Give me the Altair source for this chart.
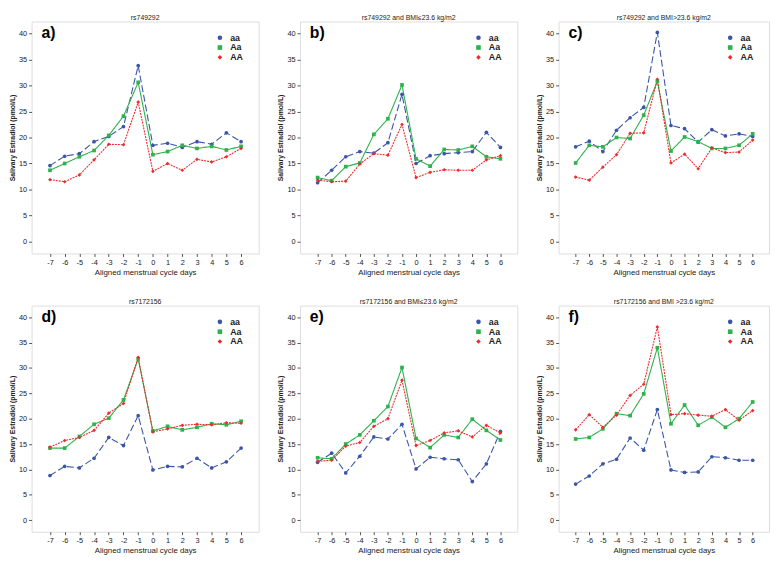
import altair as alt
import pandas as pd

days = list(range(-7, 7))
series = ["aa", "Aa", "AA"]
colors = ["#3B55A8", "#2EB24B", "#EE2A2E"]
shapes = ["circle", "square", "diamond"]
dashes = [[7, 3], [1, 0], [2, 1]]
y_ticks = [0, 5, 10, 15, 20, 25, 30, 35, 40]

titles = [
    "rs749292",
    "rs749292 and BMI\u226423.6 kg/m2",
    "rs749292 and BMI>23.6 kg/m2",
    "rs7172156",
    "rs7172156 and BMI\u226423.6 kg/m2",
    "rs7172156 and BMI >23.6 kg/m2",
]
letters = ["a)", "b)", "c)", "d)", "e)", "f)"]

# panel a
a_aa = [14.6, 16.4, 16.9, 19.2, 20.2, 22.1, 33.8, 18.5, 18.9, 18.1, 19.2, 18.7, 20.9, 19.2]
a_Aa = [13.7, 15.0, 16.3, 17.5, 20.4, 24.1, 30.6, 16.7, 17.3, 18.5, 17.9, 18.3, 17.6, 18.3]
a_AA = [11.9, 11.5, 12.8, 15.7, 18.7, 18.6, 26.8, 13.5, 15.0, 13.7, 15.8, 15.3, 16.3, 17.9]
# panel b
b_aa = [11.3, 13.7, 16.3, 17.3, 17.0, 19.0, 28.3, 15.0, 16.5, 16.9, 17.1, 17.3, 21.0, 18.1]
b_Aa = [12.3, 11.7, 14.4, 15.1, 20.6, 23.6, 30.1, 15.9, 14.5, 17.7, 17.6, 18.3, 16.3, 15.9]
b_AA = [11.8, 11.5, 11.6, 14.9, 16.9, 16.6, 22.5, 12.3, 13.3, 13.8, 13.7, 13.7, 15.7, 16.5]
# panel c
c_aa = [18.2, 19.3, 17.3, 21.4, 23.8, 25.8, 40.2, 22.3, 21.7, 19.1, 21.5, 20.3, 20.7, 20.2]
c_Aa = [15.1, 18.5, 18.2, 20.0, 19.8, 24.3, 30.8, 17.4, 20.1, 19.2, 17.9, 17.9, 18.5, 20.7]
c_AA = [12.4, 11.8, 14.3, 16.7, 20.8, 20.9, 31.2, 15.1, 16.8, 14.0, 18.0, 17.1, 17.2, 19.5]
# panel d
d_aa = [8.8, 10.6, 10.3, 12.2, 16.3, 14.7, 20.6, 9.9, 10.6, 10.5, 12.2, 10.3, 11.5, 14.2]
d_Aa = [14.2, 14.2, 16.5, 18.9, 20.1, 23.7, 31.8, 17.6, 18.5, 17.8, 18.3, 19.0, 18.8, 19.5]
d_AA = [14.4, 15.7, 16.3, 17.7, 21.1, 23.0, 32.1, 17.4, 18.0, 18.7, 18.9, 18.8, 19.2, 19.1]
# panel e
e_aa = [11.4, 13.2, 9.3, 12.6, 16.4, 16.0, 18.9, 10.1, 12.4, 12.1, 11.9, 7.6, 11.1, 17.5]
e_Aa = [12.3, 12.1, 15.0, 16.8, 19.6, 22.4, 30.1, 16.1, 14.3, 16.8, 16.3, 19.9, 17.7, 15.8]
e_AA = [11.6, 11.8, 14.6, 15.3, 18.5, 20.0, 27.6, 14.7, 15.7, 17.2, 17.6, 16.4, 18.7, 17.2]
# panel f
f_aa = [7.1, 8.7, 11.1, 12.0, 16.2, 13.8, 21.8, 9.9, 9.4, 9.5, 12.5, 12.3, 11.8, 11.8]
f_Aa = [16.0, 16.3, 18.0, 21.0, 20.6, 24.9, 34.0, 19.0, 22.7, 18.7, 20.3, 18.3, 20.0, 23.3]
f_AA = [17.8, 20.8, 18.3, 20.7, 24.6, 26.8, 38.1, 20.8, 21.0, 20.7, 20.5, 21.8, 19.7, 21.6]

panel_values = [
    (a_aa, a_Aa, a_AA), (b_aa, b_Aa, b_AA), (c_aa, c_Aa, c_AA),
    (d_aa, d_Aa, d_AA), (e_aa, e_Aa, e_AA), (f_aa, f_Aa, f_AA),
]

FONT = "Liberation Sans"


def panel(idx, w, h):
    vals = panel_values[idx]
    rows = []
    for s, v in zip(series, vals):
        for d, val in zip(days, v):
            rows.append({"day": d, "value": val, "series": s})
    df = pd.DataFrame(rows)

    x = alt.X("day:Q", scale=alt.Scale(domain=[-8.25, 7.2], nice=False, zero=False),
              axis=alt.Axis(values=days, title="Aligned menstrual cycle days", grid=False,
                            domain=False, tickSize=3, tickColor="#555", labelPadding=2,
                            labelFontSize=7.5, labelColor="#222", titleFontSize=8,
                            titleFontWeight="normal", titleColor="#222", titlePadding=3,
                            labelFont=FONT, titleFont=FONT, labelExpr="'' + datum.value"))
    y = alt.Y("value:Q", scale=alt.Scale(domain=[-2.3, 42.3], nice=False, zero=False),
              axis=alt.Axis(values=y_ticks, title="Salivary Estradiol (pmol/L)", grid=False,
                            domain=False, tickSize=3, tickColor="#555", labelPadding=2,
                            labelFontSize=7.5, labelColor="#222", titleFontSize=7,
                            titleFontWeight="bold", titleColor="#222", titlePadding=3,
                            labelFont=FONT, titleFont=FONT))
    legend = alt.Legend(title=None, orient="none", legendX=w - 44, legendY=12,
                        labelFontSize=9, labelFontWeight="bold", labelFont=FONT,
                        labelColor="#222", symbolSize=22, rowPadding=0, labelOffset=6,
                        symbolStrokeWidth=0, padding=0)
    color = alt.Color("series:N", scale=alt.Scale(domain=series, range=colors), legend=legend)
    shape = alt.Shape("series:N", scale=alt.Scale(domain=series, range=shapes), legend=legend)
    dash = alt.StrokeDash("series:N", scale=alt.Scale(domain=series, range=dashes), legend=None)

    lines = alt.Chart(df).mark_line(strokeWidth=1.1).encode(
        x=x, y=y, color=color, strokeDash=dash)
    points = alt.Chart(df).mark_point(filled=True, size=14, opacity=1).encode(
        x=x, y=y, color=color, shape=shape)
    letter = alt.Chart(pd.DataFrame({"t": [letters[idx]]})).mark_text(
        font=FONT, fontSize=16, fontWeight="bold", align="left", baseline="middle", color="#000"
    ).encode(text="t:N", x=alt.value(10), y=alt.value(12))

    return alt.layer(lines, points, letter).properties(
        width=w, height=h,
        title=alt.TitleParams(titles[idx], fontSize=7, fontWeight="normal", font=FONT,
                              color="#222", offset=1, anchor="middle"))


def row(charts):
    return alt.hconcat(*charts, spacing=17).resolve_scale(
        color="independent", shape="independent", strokeDash="independent"
    ).resolve_legend(color="independent", shape="independent")


top = row([panel(0, 231, 236), panel(1, 221, 236), panel(2, 214, 236)])
bottom = row([panel(3, 231, 230), panel(4, 221, 230), panel(5, 214, 230)])

chart = alt.vconcat(top, bottom, spacing=20).resolve_scale(
    color="independent", shape="independent", strokeDash="independent"
).resolve_legend(color="independent", shape="independent").properties(
    padding=0
).configure_view(
    stroke="#8a8a8a", strokeWidth=1
).configure(background="white")

chart.save("out.html", embed_options={"renderer": "svg", "actions": False})
